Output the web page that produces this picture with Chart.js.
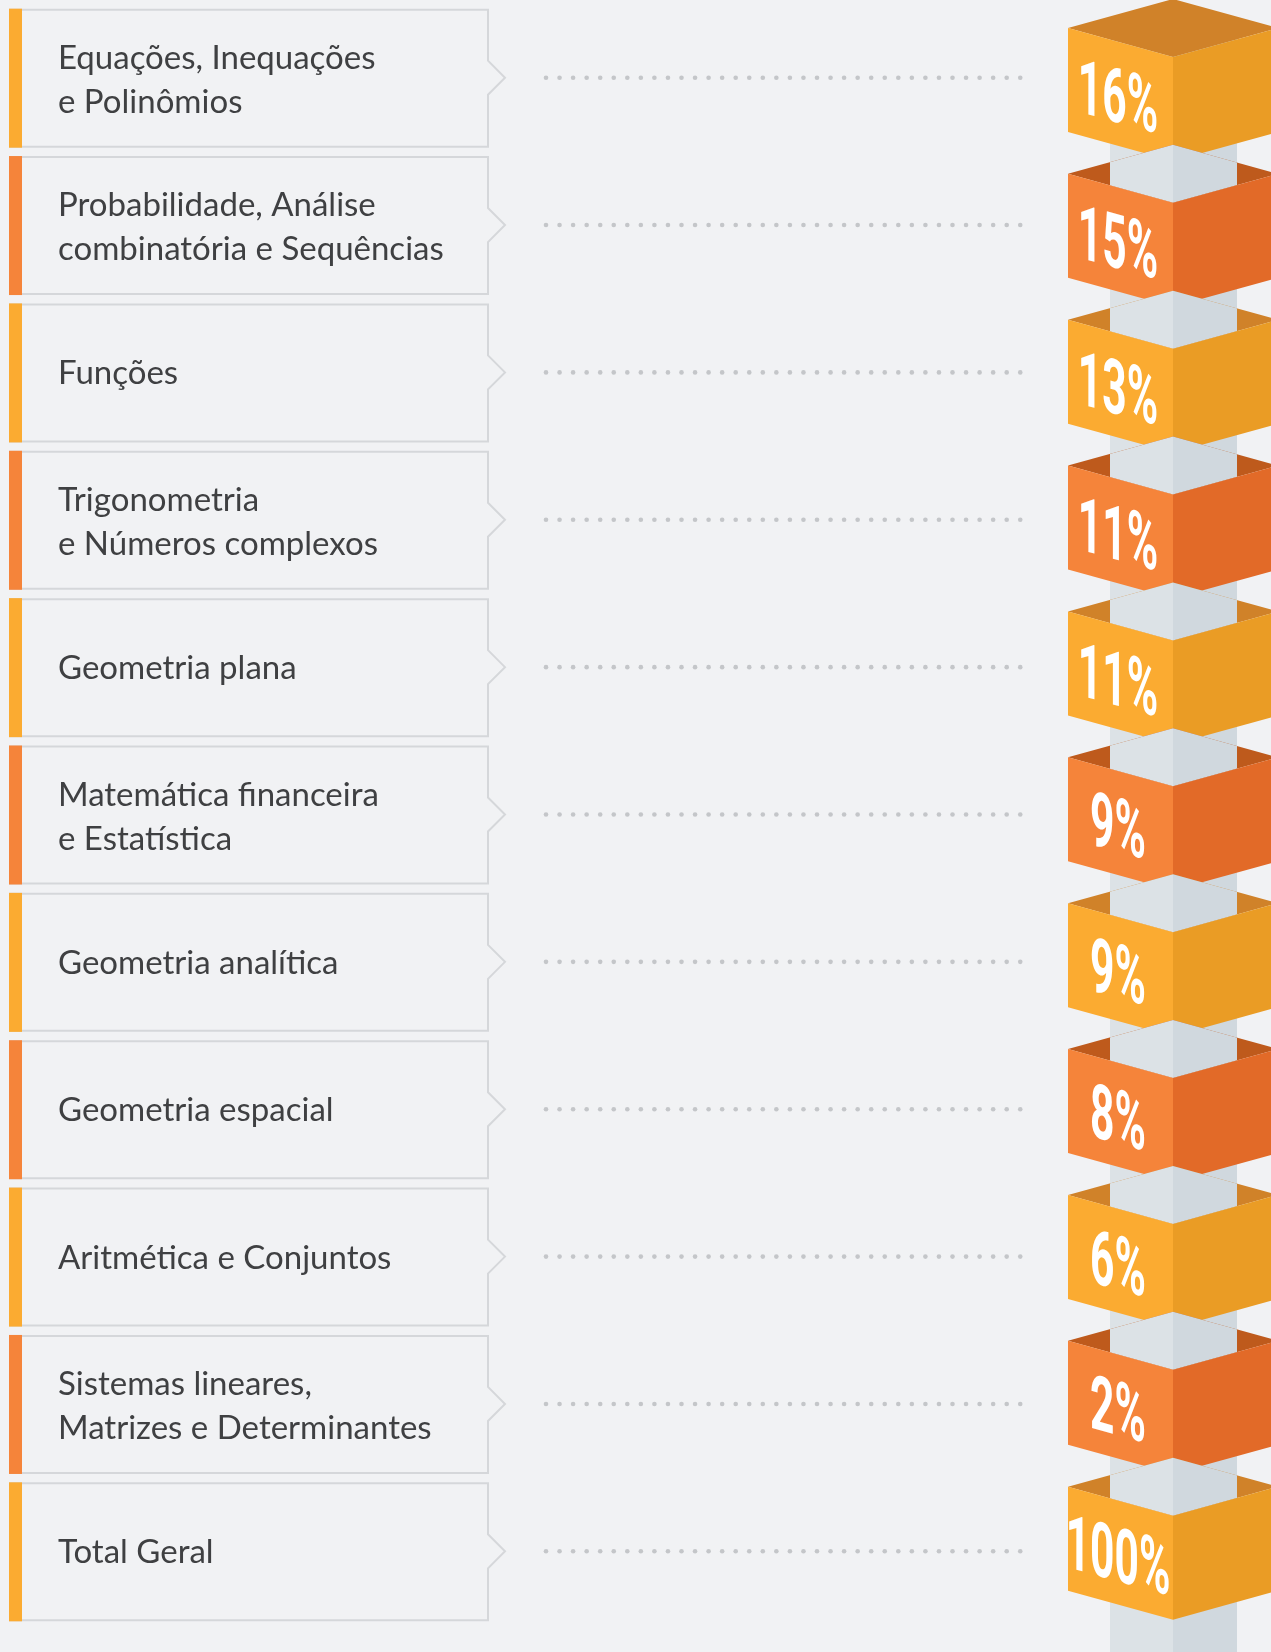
<!DOCTYPE html>
<html>
<head>
<meta charset="utf-8">
<script src="https://cdn.jsdelivr.net/npm/chart.js@4.4.0/dist/chart.umd.min.js"></script>
<style>
  html, body { margin: 0; padding: 0; background: #f1f2f4; }
  #wrap { width: 1271px; height: 1652px; position: relative; }
</style>
</head>
<body>
<div id="wrap"><canvas id="chart"></canvas></div>
<script>
// topics, each split into the lines shown in its box
const topicLines = [
  ['Equações, Inequações', 'e Polinômios'],
  ['Probabilidade, Análise', 'combinatória e Sequências'],
  ['Funções'],
  ['Trigonometria', 'e Números complexos'],
  ['Geometria plana'],
  ['Matemática financeira', 'e Estatística'],
  ['Geometria analítica'],
  ['Geometria espacial'],
  ['Aritmética e Conjuntos'],
  ['Sistemas lineares,', 'Matrizes e Determinantes'],
  ['Total Geral']
];
const topics = topicLines.map(l => l.join(' '));
const shares = [16, 15, 13, 11, 11, 9, 9, 8, 6, 2, 100];
const shareLabels = shares.map(v => v + '%');

const yellow = { front: '#fbab31', side: '#ea9c25', top: '#d08229' };
const orange = { front: '#f5843a', side: '#e26a28', top: '#be5a1c' };

const boxPlugin = {
  id: 'boxes',
  afterDatasetsDraw(chart) {
    const ctx = chart.ctx;
    const y = chart.scales.y;
    const cy = chart.scales.yCube;

    // left label boxes + dotted leaders
    topics.forEach((t, i) => {
      const c = y.getPixelForValue(i);
      const col = i % 2 === 0 ? yellow : orange;
      const top = c - 68, bot = c + 69;
      ctx.save();
      ctx.strokeStyle = '#d5d7da';
      ctx.lineWidth = 2;
      ctx.beginPath();
      ctx.moveTo(488, c - 17);
      ctx.lineTo(488, top);
      ctx.lineTo(10, top);
      ctx.lineTo(10, bot);
      ctx.lineTo(488, bot);
      ctx.lineTo(488, c + 17);
      ctx.lineTo(505, c);
      ctx.closePath();
      ctx.stroke();
      ctx.fillStyle = col.front;
      ctx.fillRect(9, top - 1, 13, bot - top + 2);

      ctx.fillStyle = '#3f4042';
      ctx.font = '33px Lato';
      ctx.textBaseline = 'alphabetic';
      const lines = topicLines[i];
      if (lines.length === 1) {
        ctx.fillText(lines[0], 58, c + 12);
      } else {
        ctx.fillText(lines[0], 58, c - 9);
        ctx.fillText(lines[1], 58, c + 35);
      }

      ctx.fillStyle = '#c4c6c9';
      for (let k = 0; k < 36; k++) {
        ctx.beginPath();
        ctx.arc(546 + k * 13.55, c, 2.3, 0, Math.PI * 2);
        ctx.fill();
      }
      ctx.restore();
    });

    // pillar
    const pl = 1110, pm = 1173, pr = 1237;
    const firstTop = cy.getPixelForValue(0) - 52;
    ctx.save();
    ctx.fillStyle = '#dce2e6';
    ctx.fillRect(pl, firstTop, pm - pl, chart.height - firstTop);
    ctx.fillStyle = '#d0d8de';
    ctx.fillRect(pm, firstTop, pr - pm, chart.height - firstTop);
    ctx.restore();

    // cubes
    const xl = 1068, xr = 1278, dy = 29, h = 104;
    const poly = (pts, fill) => {
      ctx.beginPath();
      ctx.moveTo(pts[0][0], pts[0][1]);
      for (let k = 1; k < pts.length; k++) ctx.lineTo(pts[k][0], pts[k][1]);
      ctx.closePath();
      ctx.fillStyle = fill;
      ctx.fill();
    };
    shares.forEach((v, i) => {
      const L = cy.getPixelForValue(i) - 52;
      const col = i % 2 === 0 ? yellow : orange;
      ctx.save();
      poly([[xl, L], [pm, L - dy], [xr, L], [pm, L + dy]], col.top);
      if (i > 0) {
        // open box: pillar passes through it
        ctx.save();
        ctx.beginPath();
        ctx.moveTo(xl, L); ctx.lineTo(pm, L - dy); ctx.lineTo(xr, L); ctx.lineTo(pm, L + dy);
        ctx.closePath();
        ctx.clip();
        ctx.fillStyle = '#dce2e6';
        ctx.fillRect(pl, L - dy - 2, pm - pl, 2 * dy + 4);
        ctx.fillStyle = '#d0d8de';
        ctx.fillRect(pm, L - dy - 2, pr - pm, 2 * dy + 4);
        ctx.restore();
      }
      poly([[xl, L], [pm, L + dy], [pm, L + dy + h], [xl, L + h]], col.front);
      poly([[pm, L + dy], [xr, L], [xr, L + h], [pm, L + dy + h]], col.side);

      // percentage, sheared onto the front face
      ctx.translate(1118, L + 94.5);
      ctx.transform(1, dy / (pm - xl), 0, 1, 0, 0);
      ctx.scale(0.56, 1);
      ctx.fillStyle = '#ffffff';
      ctx.font = 'bold 76px Roboto';
      ctx.textAlign = 'center';
      ctx.textBaseline = 'alphabetic';
      ctx.fillText(shareLabels[i], 0, 0);
      ctx.restore();
    });
  }
};

new Chart(document.getElementById('chart'), {
  type: 'bar',
  data: {
    labels: topics,
    datasets: [{
      data: shares,
      backgroundColor: 'rgba(0,0,0,0)',
      borderWidth: 0
    }]
  },
  options: {
    indexAxis: 'y',
    responsive: true,
    maintainAspectRatio: false,
    animation: false,
    layout: { padding: { top: 4, bottom: 27, left: 0, right: 0 } },
    plugins: { legend: { display: false }, tooltip: { enabled: false } },
    scales: {
      x: { display: false, min: 0, max: 100 },
      y: { display: false, offset: true, grid: { display: false } },
      yCube: {
        type: 'linear', axis: 'y', position: 'right', display: false,
        reverse: true, offset: false, min: -0.521, max: 10.592
      }
    }
  },
  plugins: [boxPlugin]
});
</script>
</body>
</html>
